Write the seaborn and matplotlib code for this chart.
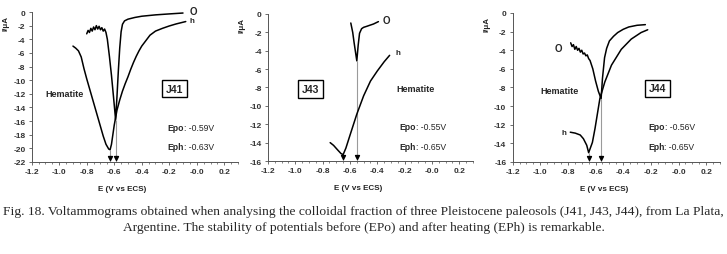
import numpy as np
import pandas as pd
import matplotlib
matplotlib.use("Agg")
import matplotlib.pyplot as plt
from matplotlib.ticker import MultipleLocator
import seaborn as sns

# -----------------------------
# Data
# -----------------------------
# J41 - before heating (o)
j41_o_x = [-0.80, -0.79, -0.78, -0.77, -0.76, -0.75, -0.74, -0.73, -0.72, -0.71, -0.70, -0.69, -0.68, -0.67, -0.66,
           -0.65, -0.635, -0.62, -0.605, -0.59, -0.58, -0.57, -0.56, -0.55, -0.54, -0.525, -0.50, -0.45, -0.40,
           -0.30, -0.20, -0.10]
j41_o_y = [-3.2, -2.7, -3.0, -2.4, -2.8, -2.2, -2.6, -2.0, -2.5, -2.1, -2.6, -2.3, -2.8, -2.5, -3.0,
           -4.0, -6.5, -9.3, -12.5, -15.8, -12.4, -8.6, -5.3, -2.9, -1.8, -1.3, -1.05, -0.8, -0.62,
           -0.42, -0.28, -0.15]
# J41 - after heating (h)
j41_h_x = [-0.90, -0.88, -0.86, -0.84, -0.82, -0.80, -0.78, -0.76, -0.74, -0.72, -0.70, -0.68, -0.66, -0.64,
           -0.63, -0.62, -0.61, -0.60, -0.58, -0.56, -0.54, -0.52, -0.50, -0.48, -0.46, -0.44, -0.42, -0.40,
           -0.37, -0.34, -0.30, -0.25, -0.20, -0.15, -0.10, -0.08]
j41_h_y = [-5.0, -5.3, -5.7, -6.6, -8.3, -9.8, -11.2, -12.6, -14.0, -15.4, -16.8, -18.2, -19.4, -20.1,
           -20.2, -19.4, -18.0, -16.6, -14.4, -12.9, -11.6, -10.5, -9.5, -8.4, -7.4, -6.5, -5.7, -5.0,
           -4.2, -3.4, -2.8, -2.4, -2.05, -1.75, -1.5, -1.4]

# J43
j43_o_x = [-0.594, -0.58, -0.57, -0.56, -0.55, -0.54, -0.53, -0.515, -0.50, -0.477, -0.45, -0.428, -0.392]
j43_o_y = [-0.98, -2.0, -3.1, -4.1, -5.1, -3.4, -2.1, -1.6, -1.45, -1.34, -1.2, -1.09, -0.83]
j43_h_x = [-0.745, -0.72, -0.69, -0.665, -0.65, -0.63, -0.60, -0.55, -0.50, -0.45, -0.40, -0.35, -0.31]
j43_h_y = [-14.0, -14.3, -14.8, -15.2, -15.3, -14.6, -13.2, -10.9, -8.9, -7.3, -6.2, -5.2, -4.5]

# J44
j44_o_x = [-0.78, -0.77, -0.76, -0.75, -0.74, -0.73, -0.72, -0.71, -0.70, -0.69, -0.68, -0.67, -0.66, -0.65, -0.64,
           -0.62, -0.60, -0.58, -0.56, -0.55, -0.535, -0.52, -0.50, -0.47, -0.44, -0.40, -0.36, -0.30, -0.24]
j44_o_y = [-3.2, -3.6, -3.4, -3.9, -3.6, -4.0, -3.8, -4.2, -4.0, -4.4, -4.3, -4.6, -4.5, -4.9, -5.1,
           -6.0, -7.3, -8.4, -9.2, -7.0, -4.8, -3.8, -3.0, -2.5, -2.1, -1.75, -1.5, -1.32, -1.25]
j44_h_x = [-0.783, -0.747, -0.711, -0.688, -0.664, -0.65, -0.623, -0.604, -0.569, -0.533, -0.485, -0.414,
           -0.342, -0.271, -0.223]
j44_h_y = [-12.8, -12.9, -13.1, -13.5, -14.2, -15.0, -13.9, -12.4, -9.2, -7.4, -5.6, -3.9,
           -2.8, -2.1, -1.8]

samples = ["J41", "J43", "J44"]
epo = [-0.59, -0.55, -0.56]          # peak potential before heating
eph = [-0.63, -0.65, -0.65]          # peak potential after heating
epo_i = [-15.8, -5.1, -9.2]          # current at the o peak
eph_i = [-20.2, -15.3, -15.0]        # current at the h peak
y_min = [-22, -16, -16]

caption = ["Fig. 18. Voltammograms obtained when analysing the colloidal fraction of three Pleistocene paleosols (J41, J43, J44), from La Plata,",
           "Argentine. The stability of potentials before (EPo) and after heating (EPh) is remarkable."]

curves = {
    "J41": (j41_o_x, j41_o_y, j41_h_x, j41_h_y),
    "J43": (j43_o_x, j43_o_y, j43_h_x, j43_h_y),
    "J44": (j44_o_x, j44_o_y, j44_h_x, j44_h_y),
}

# -----------------------------
# Style
# -----------------------------
sns.set_theme(style="white")
plt.rcParams['font.family'] = ['Liberation Sans', 'DejaVu Sans']

fig = plt.figure(figsize=(7.27, 2.55), dpi=100)
fig.patch.set_facecolor("white")

positions = [
    [0.0436, 0.3608, 0.2838, 0.5882],
    [0.3686, 0.3647, 0.2820, 0.5765],
    [0.7051, 0.3608, 0.2853, 0.5843],
]

# text placement per panel (data coords): hematite, box, epo/eph, o label, h label
hem_pos = [(-1.10, -12.0), (-0.26, -8.15), (-1.0, -8.3)]
box_pos = [(-0.16, -11.25), (-0.89, -8.15), (-0.15, -8.1)]
ep_pos = [(-0.21, -16.9, -19.75), (-0.24, -12.25, -14.4), (-0.22, -12.2, -14.3)]
o_lab = [(-0.05, 0.1, "left"), (-0.36, -0.7, "left"), (-0.84, -3.8, "right")]
h_lab = [(-0.05, -1.3, "left"), (-0.27, -4.2, "left"), (-0.81, -12.8, "right")]

tick_font = dict(fontsize=6, fontweight="bold", color="#333333")

for i, name in enumerate(samples):
    ax = fig.add_axes(positions[i])
    ox, oy, hx, hy = curves[name]
    df_o = pd.DataFrame({"E": ox, "I": oy})
    df_h = pd.DataFrame({"E": hx, "I": hy})
    sns.lineplot(data=df_o, x="E", y="I", sort=False, estimator=None, color="black", lw=1.1, ax=ax)
    sns.lineplot(data=df_h, x="E", y="I", sort=False, estimator=None, color="black", lw=1.1, ax=ax)

    # peak markers: grey drop lines with small black arrowheads on the axis
    ax.vlines([epo[i], eph[i]], [y_min[i], y_min[i]], [epo_i[i], eph_i[i]], color="#9a9a9a", lw=0.8, zorder=1)
    ax.scatter([epo[i], eph[i]], [y_min[i] + 0.028 * abs(y_min[i]), y_min[i] + 0.028 * abs(y_min[i])],
               marker="v", s=8, color="black", zorder=3, clip_on=False)

    ax.set_xlim(-1.2, 0.3)
    ax.set_ylim(y_min[i], 0)
    ax.xaxis.set_minor_locator(MultipleLocator(0.05))
    ax.set_xticks(np.arange(-1.2, 0.21, 0.2))
    ax.set_xticklabels([f"{v:.1f}" for v in np.arange(-1.2, 0.21, 0.2)], **tick_font)
    yt = np.arange(y_min[i], 0.1, 2)
    ax.set_yticks(yt)
    ax.set_yticklabels([f"{int(v)}" for v in yt], **tick_font)
    ax.tick_params(axis="both", which="major", length=2.5, width=0.6, pad=2, direction="out", color="#555555")
    ax.tick_params(axis="x", which="minor", length=1.5, width=0.5, direction="out", color="#555555", bottom=True)
    ax.tick_params(axis="y", which="major", left=True)
    ax.tick_params(axis="x", which="major", bottom=True)

    for s in ["top", "right"]:
        ax.spines[s].set_visible(False)
    for s in ["left", "bottom"]:
        ax.spines[s].set_color("#555555")
        ax.spines[s].set_linewidth(0.7)

    ax.set_xlabel("E (V vs ECS)", fontsize=5.8, fontweight="bold", color="#222222")
    ax.xaxis.set_label_coords(0.44, -0.155)
    ax.set_ylabel("I/\u03bcA", fontsize=5.8, fontweight="bold", color="#222222")
    ax.yaxis.set_label_coords(-0.108, 0.93)

    # annotations
    ax.text(hem_pos[i][0], hem_pos[i][1], "Hematite", fontsize=6.5, fontweight="bold", va="center", ha="left")
    ax.text(box_pos[i][0], box_pos[i][1], name, fontsize=7.5, fontweight="bold", va="center", ha="center",
            bbox=dict(boxstyle="square,pad=0.35", fc="white", ec="black", lw=1.0))
    for lab, yy, val in [("Epo", ep_pos[i][1], epo[i]), ("Eph", ep_pos[i][2], eph[i])]:
        t = ax.text(ep_pos[i][0], yy, lab, fontsize=6.2, fontweight="bold", va="center", ha="left")
        ax.annotate(f": {val:.2f}V", xy=(1, 0.5), xycoords=t, va="center", ha="left", fontsize=6.2)
    ax.text(o_lab[i][0], o_lab[i][1], "O", fontsize=7, fontweight="bold", va="center", ha=o_lab[i][2])
    ax.text(h_lab[i][0], h_lab[i][1], "h", fontsize=5.8, fontweight="bold", va="center", ha=h_lab[i][2])

# caption
fig.text(0.5, 1 - 212 / 255, caption[0], ha="center", va="center", fontsize=9.7,
         family=["Liberation Serif", "DejaVu Serif"])
fig.text(0.5, 1 - 228 / 255, caption[1], ha="center", va="center", fontsize=9.7,
         family=["Liberation Serif", "DejaVu Serif"])

fig.savefig("out.png", dpi=100, facecolor="white")
